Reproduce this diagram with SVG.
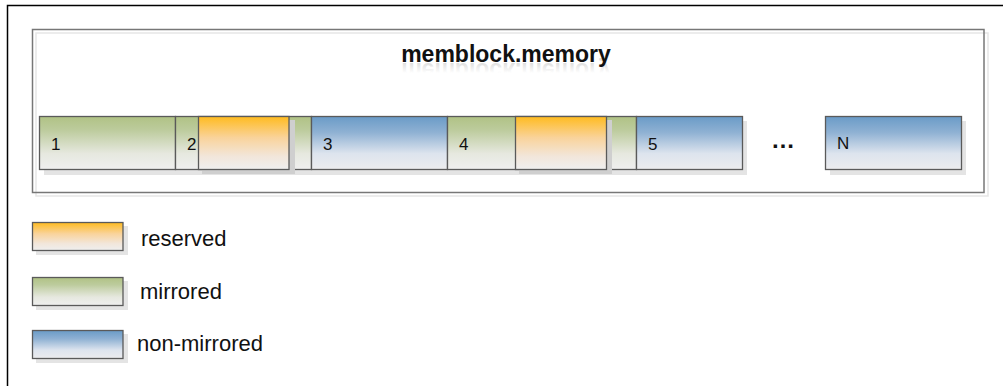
<svg xmlns="http://www.w3.org/2000/svg" width="1003" height="386" viewBox="0 0 1003 386">
<defs>
<linearGradient id="gGreen" x1="0" y1="0" x2="0" y2="1">
<stop offset="0" stop-color="#b0c285"/>
<stop offset="0.25" stop-color="#bccb9c"/>
<stop offset="0.7" stop-color="#e6e8df"/>
<stop offset="1" stop-color="#efefef"/>
</linearGradient>
<linearGradient id="gOrange" x1="0" y1="0" x2="0" y2="1">
<stop offset="0" stop-color="#ffbb1f"/>
<stop offset="0.4" stop-color="#f9d39b"/>
<stop offset="0.75" stop-color="#f2e6da"/>
<stop offset="1" stop-color="#efefef"/>
</linearGradient>
<linearGradient id="gBlue" x1="0" y1="0" x2="0" y2="1">
<stop offset="0" stop-color="#6a9bc7"/>
<stop offset="0.3" stop-color="#8fb1d3"/>
<stop offset="0.7" stop-color="#dde4ee"/>
<stop offset="1" stop-color="#ececee"/>
</linearGradient>
<linearGradient id="gRefl" gradientUnits="userSpaceOnUse" x1="0" y1="62" x2="0" y2="52">
<stop offset="0" stop-color="#c8c8c8" stop-opacity="0.6"/>
<stop offset="1" stop-color="#c8c8c8" stop-opacity="0"/>
</linearGradient>
</defs>
<style>
.blk{stroke:#5a5a5a;stroke-width:1.3}
.shd{fill:#e4e4e4}
.oshd{fill:#cfcfcf}
.green{fill:url(#gGreen)}
.orange{fill:url(#gOrange)}
.blue{fill:url(#gBlue)}
.lbl{font-family:"Liberation Sans",Arial,sans-serif;font-size:17px;fill:#111}
.leg{font-family:"Liberation Sans",Arial,sans-serif;font-size:22px;fill:#111}
.title{font-family:"Liberation Sans",Arial,sans-serif;font-size:23px;font-weight:bold;fill:#111}
</style>
<rect width="1003" height="386" fill="#ffffff"/>
<rect id="frame" x="7.5" y="5.5" width="1010" height="400" fill="none" stroke="#000" stroke-width="1.5"/>

<g id="container">
<rect x="36" y="33" width="952" height="163" fill="none" stroke="#e6e6e6" stroke-width="1.5"/>
<rect x="32.5" y="29.5" width="951.5" height="163" fill="none" stroke="#777" stroke-width="1.5"/>
<g transform="translate(0,125) scale(1,-1)" aria-hidden="true"><text x="506" y="62" text-anchor="middle" font-family="Liberation Sans, Arial, sans-serif" font-size="23" font-weight="bold" fill="url(#gRefl)">memblock.memory</text></g>
<text class="title" x="506" y="62" text-anchor="middle">memblock.memory</text>
</g>

<g id="shadows">
<rect class="shd" x="44" y="121" width="703" height="54"/>
<rect class="shd" x="830" y="121" width="136" height="54"/>
</g>

<g id="block1"><rect class="blk green" x="39.5" y="116.5" width="136" height="53"/><text class="lbl" x="51" y="150">1</text></g>
<g id="block2"><rect class="blk green" x="175.5" y="116.5" width="136" height="53"/><text class="lbl" x="187" y="150">2</text></g>
<g id="block3"><rect class="blk blue" x="311.5" y="116.5" width="136" height="53"/><text class="lbl" x="323" y="150">3</text></g>
<g id="block4"><rect class="blk green" x="447.5" y="116.5" width="189" height="53"/><text class="lbl" x="459" y="150">4</text></g>
<g id="block5"><rect class="blk blue" x="636.5" y="116.5" width="106" height="53"/><text class="lbl" x="648" y="150">5</text></g>
<g id="ellipsis"><text x="783" y="148" text-anchor="middle" font-family="Liberation Sans, Arial, sans-serif" font-size="24" font-weight="bold" fill="#111">…</text></g>
<g id="blockN"><rect class="blk blue" x="825.5" y="116.5" width="136" height="53"/><text class="lbl" x="837" y="149">N</text></g>

<g id="reserved1"><rect class="oshd" x="202" y="120" width="93" height="54"/><rect class="blk orange" x="198.5" y="116.5" width="90.5" height="53"/></g>
<g id="reserved2"><rect class="oshd" x="519" y="120" width="93" height="54"/><rect class="blk orange" x="515.5" y="116.5" width="91" height="53"/></g>

<g id="legend-reserved">
<rect class="shd" x="36" y="226" width="92" height="29"/>
<rect class="blk orange" x="32.5" y="222.5" width="90.5" height="28"/>
<text class="leg" x="141" y="246">reserved</text>
</g>
<g id="legend-mirrored">
<rect class="shd" x="36" y="281" width="92" height="29"/>
<rect class="blk green" x="32.5" y="277.5" width="90.5" height="28" stroke="#6a7650"/>
<text class="leg" x="140" y="299">mirrored</text>
</g>
<g id="legend-nonmirrored">
<rect class="shd" x="36" y="334" width="92" height="29"/>
<rect class="blk blue" x="32.5" y="330.5" width="90.5" height="28"/>
<text class="leg" x="137" y="351">non-mirrored</text>
</g>
<g id="connectors"/>
</svg>
